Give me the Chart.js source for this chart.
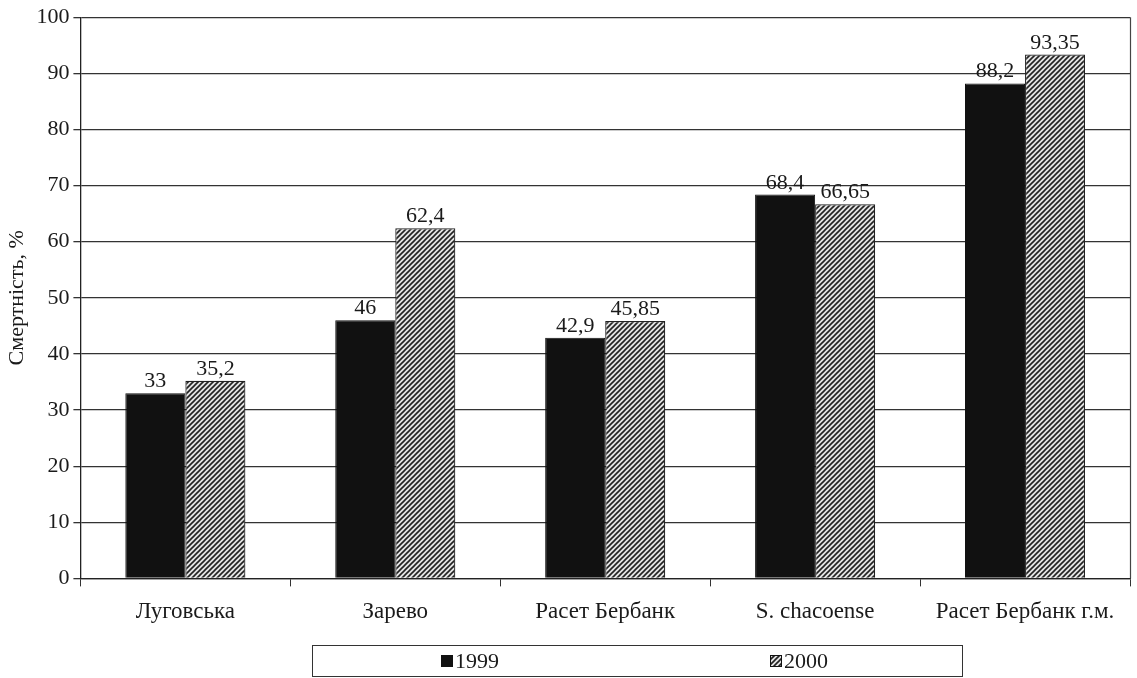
<!DOCTYPE html>
<html>
<head>
<meta charset="utf-8">
<script src="https://cdn.jsdelivr.net/npm/chart.js@4.4.1/dist/chart.umd.min.js"></script>
<style>
  html, body { margin: 0; padding: 0; background: #fff; }
  #wrap { width: 1137px; height: 678px; position: relative; }
</style>
</head>
<body>
<div id="wrap"><canvas id="c" width="1137" height="678"></canvas></div>
<script>
// Mortality by variety, two seasons
const categories = ['Луговська', 'Зарево', 'Расет Бербанк', 'S. chacoense', 'Расет Бербанк г.м.'];
const seriesNames = ['1999', '2000'];
const values1999 = [33, 46, 42.9, 68.4, 88.2];
const values2000 = [35.2, 62.4, 45.85, 66.65, 93.35];
const yTicks = [0, 10, 20, 30, 40, 50, 60, 70, 80, 90, 100];

const FONT = '"Liberation Serif", "DejaVu Serif", serif';
const INK = '#1a1a1a';

// Diagonal hatch fill for the second series
function makeHatch() {
  const s = 5;
  const p = document.createElement('canvas');
  p.width = s; p.height = s;
  const g = p.getContext('2d');
  g.fillStyle = '#e4e4e4';
  g.fillRect(0, 0, s, s);
  g.strokeStyle = '#222';
  g.lineWidth = 1.6;
  g.beginPath();
  g.moveTo(-1, s + 1); g.lineTo(s + 1, -1);
  g.moveTo(-1, 1); g.lineTo(1, -1);
  g.moveTo(s - 1, s + 1); g.lineTo(s + 1, s - 1);
  g.stroke();
  return g.createPattern(p, 'repeat');
}
const ctx = document.getElementById('c').getContext('2d');
const hatch = makeHatch();

const fmt = v => String(v).replace('.', ',');

// Value labels above each bar
const valueLabels = {
  id: 'valueLabels',
  afterDatasetsDraw(chart) {
    const c = chart.ctx;
    c.save();
    c.font = '22px ' + FONT;
    c.fillStyle = INK;
    c.textAlign = 'center';
    c.textBaseline = 'alphabetic';
    chart.data.datasets.forEach((ds, i) => {
      chart.getDatasetMeta(i).data.forEach((bar, j) => {
        c.fillText(fmt(ds.data[j]), bar.x, bar.y - 6);
      });
    });
    c.restore();
  }
};

// Right frame edge and boxed legend under the axis
const frameAndLegend = {
  id: 'frameAndLegend',
  afterDraw(chart) {
    const c = chart.ctx;
    const a = chart.chartArea;
    c.save();
    c.strokeStyle = '#444';
    c.lineWidth = 1.2;
    c.beginPath();
    c.moveTo(a.right + 0.5, a.top);
    c.lineTo(a.right + 0.5, a.bottom);
    c.stroke();

    // legend box
    const bx = 312, by = 645, bw = 650, bh = 31;
    c.strokeStyle = '#333';
    c.lineWidth = 1;
    c.strokeRect(bx + 0.5, by + 0.5, bw, bh);
    const items = [
      { x: 441, fill: '#111', name: seriesNames[0] },
      { x: 770, fill: hatch, name: seriesNames[1] }
    ];
    c.font = '22px ' + FONT;
    c.textBaseline = 'alphabetic';
    c.textAlign = 'left';
    items.forEach(it => {
      c.fillStyle = it.fill;
      c.fillRect(it.x, by + 10, 12, 12);
      c.strokeStyle = '#111';
      c.strokeRect(it.x + 0.5, by + 10.5, 11, 11);
      c.fillStyle = INK;
      c.fillText(it.name, it.x + 14, by + 23);
    });
    c.restore();
  }
};

new Chart(ctx, {
  type: 'bar',
  data: {
    labels: categories,
    datasets: [
      {
        label: seriesNames[0],
        data: values1999,
        backgroundColor: '#111111',
        borderColor: '#111111',
        borderWidth: 1,
        categoryPercentage: 0.572,
        barPercentage: 1.0
      },
      {
        label: seriesNames[1],
        data: values2000,
        backgroundColor: hatch,
        borderColor: '#222222',
        borderWidth: 1.2,
        categoryPercentage: 0.572,
        barPercentage: 1.0
      }
    ]
  },
  options: {
    responsive: false,
    animation: false,
    devicePixelRatio: 1,
    layout: { padding: { top: 11, right: 7, bottom: 40, left: 4 } },
    plugins: {
      legend: { display: false },
      tooltip: { enabled: false }
    },
    scales: {
      x: {
        offset: true,
        grid: {
          display: true,
          offset: true,
          drawOnChartArea: false,
          drawTicks: true,
          tickLength: 8,
          color: '#333'
        },
        border: { display: true, color: '#222', width: 1.3 },
        ticks: {
          font: { family: FONT, size: 23 },
          color: INK,
          padding: 12,
          maxRotation: 0
        }
      },
      y: {
        min: 0,
        max: 100,
        afterBuildTicks(scale) { scale.ticks = yTicks.map(v => ({ value: v })); },
        grid: {
          color: '#333',
          lineWidth: 1.3,
          drawTicks: true,
          tickLength: 7
        },
        border: { display: true, color: '#222', width: 1.3 },
        title: {
          display: true,
          text: 'Смертність, %',
          font: { family: FONT, size: 22 },
          color: INK,
          padding: { top: 0, bottom: 2 }
        },
        ticks: {
          font: { family: FONT, size: 22 },
          color: INK,
          padding: 4
        }
      }
    }
  },
  plugins: [valueLabels, frameAndLegend]
});
</script>
</body>
</html>
